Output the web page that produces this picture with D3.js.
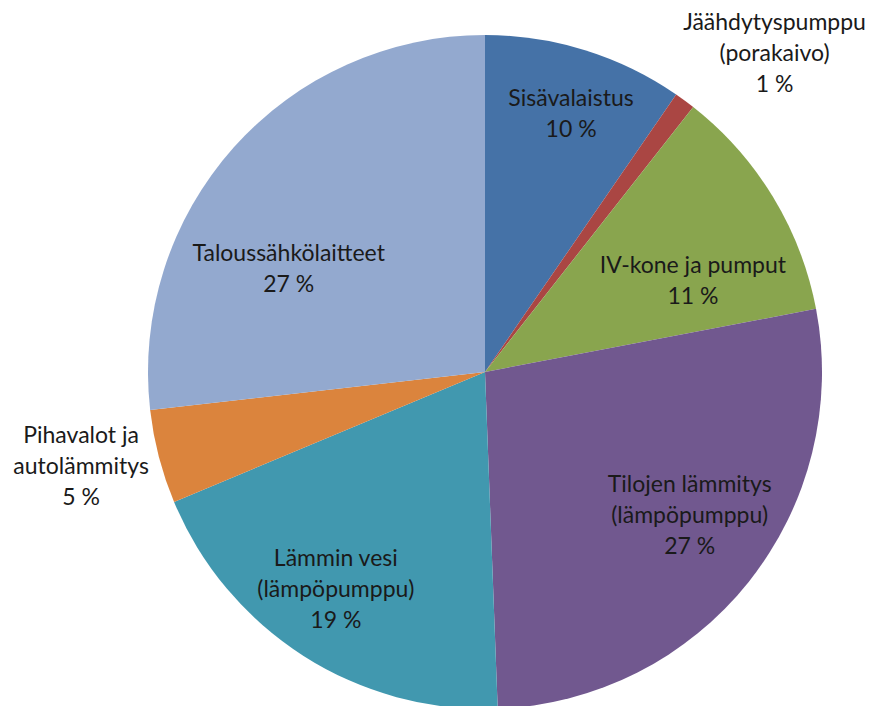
<!DOCTYPE html>
<html><head><meta charset="utf-8">
<script src="https://cdn.jsdelivr.net/npm/d3@7"></script>
<style>html,body{margin:0;padding:0;background:#fff;}svg{display:block;}</style>
</head><body>
<svg id="chart" width="869" height="706"></svg>
<script>
const categories = ["Sisävalaistus", "Jäähdytyspumppu (porakaivo)", "IV-kone ja pumput", "Tilojen lämmitys (lämpöpumppu)", "Lämmin vesi (lämpöpumppu)", "Pihavalot ja autolämmitys", "Taloussähkölaitteet"];
const labelLines = [["Sisävalaistus"], ["Jäähdytyspumppu", "(porakaivo)"], ["IV-kone ja pumput"], ["Tilojen lämmitys", "(lämpöpumppu)"], ["Lämmin vesi", "(lämpöpumppu)"], ["Pihavalot ja", "autolämmitys"], ["Taloussähkölaitteet"]];
const values = [9.6, 1.0, 11.4, 27.4, 19.3, 4.5, 26.8];
const colors = ["#4572A7", "#AA4643", "#89A54E", "#71588F", "#4198AF", "#DB843D", "#93A9CF"];
// label placement: [radius factor, angle offset in degrees]
const labelPlace = [[0.81, 1.1], [1.28, 5.8], [0.675, 7.4], [0.74, -3.7], [0.78, 2.0], [1.23, 1.6], [0.66, -13.7]];

const svg = d3.select("#chart");
const cx = 485, cy = 372, R = 337;
const g = svg.append("g").attr("transform", `translate(${cx},${cy})`);
const pie = d3.pie().sort(null).value(d => d)(values);
const arc = d3.arc().innerRadius(0).outerRadius(R);
g.selectAll("path").data(pie).join("path")
  .attr("d", arc).attr("fill", (d, i) => colors[i]).attr("stroke", "none");

const lh = 31;
pie.forEach((d, i) => {
  const mid = (d.startAngle + d.endAngle) / 2 + labelPlace[i][1] * Math.PI / 180;
  const r = R * labelPlace[i][0];
  const x = r * Math.sin(mid), y = -r * Math.cos(mid);
  const lines = labelLines[i].concat([Math.round(values[i]) + " %"]);
  const t = g.append("text").attr("text-anchor", "middle")
    .attr("font-family", "Lato, 'Open Sans', sans-serif").attr("font-size", 23)
    .attr("fill", "#1a1a1a");
  lines.forEach((ln, k) => {
    t.append("tspan").attr("x", x).attr("y", y + (k - (lines.length - 1) / 2) * lh)
      .attr("dominant-baseline", "central").text(ln);
  });
});
</script>
</body></html>
